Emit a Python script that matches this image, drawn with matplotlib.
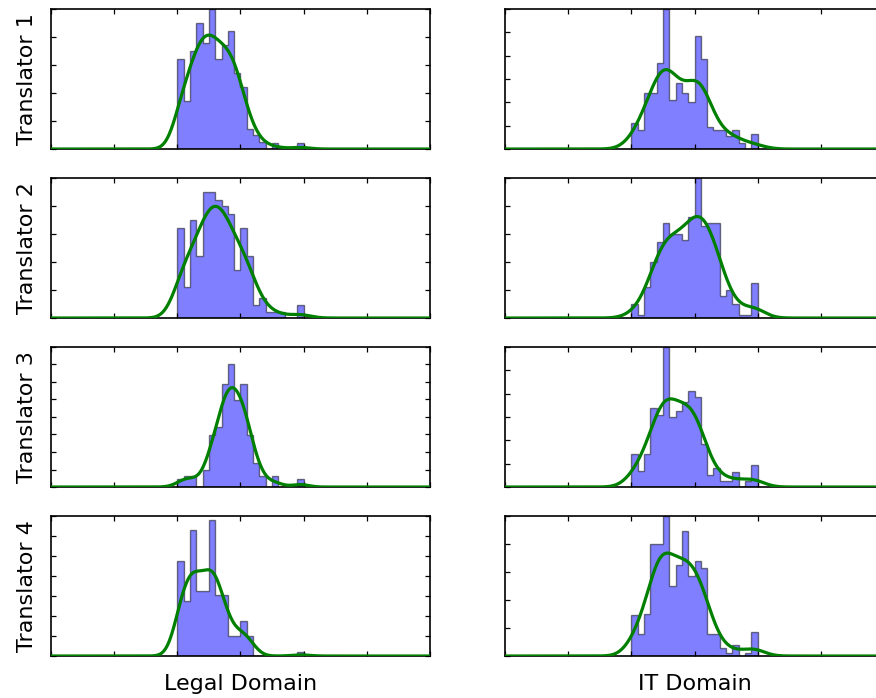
import numpy as np
import matplotlib
matplotlib.use("Agg")
import matplotlib.pyplot as plt
from matplotlib.ticker import MultipleLocator

# bar heights of the 20 bins (width 0.1, from 2.0 to 4.0), read in units of the y tick step
legal_t1 = [3.2, 1.7, 3.5, 4.5, 3.8, 5.0, 3.2, 3.7, 4.2, 2.7, 2.2, 0.7, 0.5, 0.25, 0, 0.2, 0, 0, 0, 0.2]
legal_t2 = [3.2, 1.1, 3.5, 2.2, 4.5, 4.5, 4.2, 4.0, 3.7, 1.7, 3.2, 2.2, 0.45, 0.7, 0.2, 0.2, 0.2, 0, 0, 0.45]
legal_t3 = [0.45, 0.65, 0.65, 0, 1.0, 2.95, 3.45, 5.9, 7.0, 4.95, 5.9, 2.95, 1.4, 0.65, 0, 0.65, 0, 0, 0, 0.45]
legal_t4 = [4.75, 2.75, 6.3, 3.25, 3.25, 6.8, 3.05, 3.05, 1.0, 1.0, 1.75, 1.0, 0, 0, 0, 0, 0, 0, 0, 0.2]

it_t1 = [1.1, 0.8, 2.4, 2.4, 3.7, 6.0, 2.1, 2.85, 2.4, 2.0, 4.85, 3.85, 0.95, 0.8, 0.8, 0.55, 0.8, 0.25, 0, 0.65]
it_t2 = [0.5, 0.1, 1.1, 2.0, 2.7, 3.4, 3.0, 3.0, 2.8, 3.6, 5.0, 3.3, 3.4, 3.4, 0.8, 1.0, 0.5, 0.1, 0.1, 1.25]
it_t3 = [1.4, 0.7, 1.4, 3.4, 3.1, 6.0, 3.0, 3.25, 3.65, 4.1, 3.85, 1.85, 0.5, 0.8, 0.25, 0.25, 0.65, 0, 0.25, 0.95]
it_t4 = [1.45, 0.8, 1.5, 4.0, 4.0, 5.0, 2.5, 3.25, 4.45, 2.85, 3.4, 3.15, 0.8, 0.8, 0.3, 0.1, 0.4, 0, 0.1, 0.85]

translators = ["Translator 1", "Translator 2", "Translator 3", "Translator 4"]
domains = ["Legal Domain", "IT Domain"]
legal = [legal_t1, legal_t2, legal_t3, legal_t4]
it = [it_t1, it_t2, it_t3, it_t4]
y_top = [[5, 6], [5, 5], [8, 6], [7, 5]]   # y range in tick steps

bin_lo, bin_hi = 2.0, 4.0
x_lo, x_hi = 0, 6
n_samples = 60   # rough sample size, only used for the kde bandwidth


def kde_curve(heights, grid, n):
    h = np.asarray(heights, float)
    edges = np.linspace(bin_lo, bin_hi, len(h) + 1)
    centers = (edges[:-1] + edges[1:]) / 2
    w = h / h.sum()
    mu = (w * centers).sum()
    sd = np.sqrt((w * (centers - mu) ** 2).sum())
    bw = sd * n ** (-0.2)
    k = np.exp(-0.5 * ((grid[None, :] - centers[:, None]) / bw) ** 2) / (bw * np.sqrt(2 * np.pi))
    area = h.sum() * (edges[1] - edges[0])
    return (w[:, None] * k).sum(0) * area


fig, axs = plt.subplots(4, 2, figsize=(8.76, 6.98), dpi=100)
fig.subplots_adjust(left=51/876, right=884/876, bottom=42/698, top=689/698,
                    wspace=0.198, hspace=0.207)

grid = np.linspace(x_lo, x_hi, 600)
for r in range(4):
    for c, data in enumerate([legal, it]):
        ax = axs[r, c]
        h = data[r]
        edges = np.linspace(bin_lo, bin_hi, len(h) + 1)
        centers = (edges[:-1] + edges[1:]) / 2
        ax.hist(centers, bins=edges, weights=h, histtype="stepfilled",
                facecolor="b", edgecolor="k", alpha=0.5, linewidth=1.0)
        ax.plot(grid, kde_curve(h, grid, n_samples), color="g", lw=2.3, zorder=3)
        ax.set_xlim(x_lo, x_hi)
        ax.set_ylim(0, y_top[r][c])
        ax.xaxis.set_major_locator(MultipleLocator(1))
        ax.yaxis.set_major_locator(MultipleLocator(1))
        ax.tick_params(direction="in", length=3.5, width=0.9, top=True, right=True,
                       labelbottom=False, labelleft=False)
        for s in ax.spines.values():
            s.set_linewidth(1.2)
        if c == 0:
            ax.set_ylabel(translators[r], fontsize=16, labelpad=10)
        if r == 3:
            ax.set_xlabel(domains[c], fontsize=16, labelpad=13)

fig.savefig("out.png", dpi=100)
